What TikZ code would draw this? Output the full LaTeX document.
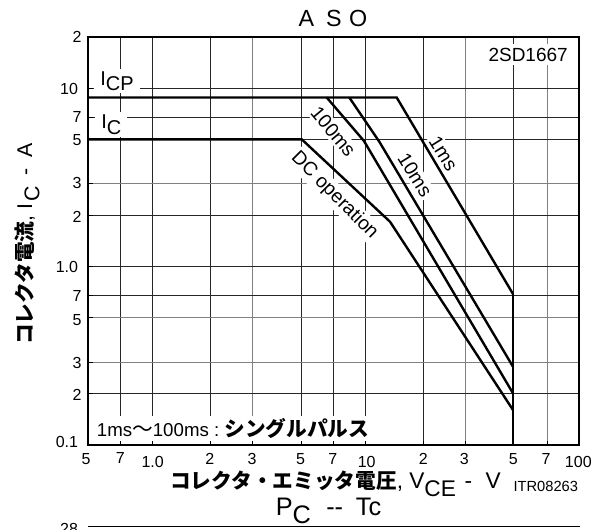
\documentclass[tikz,border=0pt]{standalone}
\usepackage{fontspec}
\setmainfont{Liberation Sans}
\newfontfamily\jp{Noto Sans CJK JP}
\begin{document}
\begin{tikzpicture}[x=0.75pt,y=-0.75pt,
  grid/.style={line width=0.75pt,draw=black!85},
  gridlt/.style={line width=0.75pt,draw=black!50},
  curve/.style={line width=1.8pt,line join=miter,line cap=butt},
  ticklbl/.style={font=\fontsize{12}{13}\selectfont,inner sep=0pt},
  lbl/.style={fill=white,inner sep=1.5pt,font=\fontsize{14.5}{15}\selectfont}]
\useasboundingbox (0,0) rectangle (605,529);
% grid
\foreach \x in {120.3,152.7,210.3,301.7,333.3,365.7,423.7,513.3}
  \draw[grid] (\x,37) -- (\x,445);
\foreach \x in {252,465.3,547}
  \draw[gridlt] (\x,37) -- (\x,445);
\foreach \y in {88.7,117.3,139.3,215.7,266.7,295,393.3}
  \draw[grid] (88,\y) -- (579,\y);
\foreach \y in {183.3,317.7,362}
  \draw[gridlt] (88,\y) -- (579,\y);
% white label boxes
\node[fill=white,inner xsep=4.5pt,inner ysep=1.5pt,anchor=base west,font=\fontsize{15}{16}\selectfont] (icp) at (94,85) {I\raisebox{-4.3pt}{CP}};
\node[fill=white,inner xsep=4.5pt,inner ysep=1.5pt,anchor=base west,font=\fontsize{15}{16}\selectfont] (ic) at (95,128) {I\raisebox{-5.2pt}{C}};
\node[fill=white,inner xsep=3pt,inner ysep=2.5pt,anchor=base east,font=\fontsize{14.25}{15}\selectfont] (part) at (572,61) {2SD1667};
\node[fill=white,inner xsep=2pt,inner ysep=2pt,anchor=base west,font=\fontsize{14}{15}\selectfont] (pulse) at (94,436.7) {1ms{\jp\fontsize{15.5}{16}\selectfont ～}100ms :\hspace{4pt}{\jp\bfseries\fontsize{15.5}{16}\selectfont シングルパルス}};
\node[lbl,rotate=-50] (l100) at (333.3,131.7) {100ms};
\node[lbl,rotate=-58] (l10) at (415,175) {10ms};
\node[lbl,rotate=-58] (l1) at (443.3,153.3) {1ms};
\node[lbl,rotate=-45] (ldc) at (334.5,195.5) {DC operation};
% curve points
\coordinate (icpL) at (88,97.5);
\coordinate (icpR) at (396.7,97.5);
\coordinate (s10) at (349.3,97.5);
\coordinate (k10) at (379.5,142);
\coordinate (s100) at (326.7,97.5);
\coordinate (k100) at (364,141);
\coordinate (icL) at (88,139.3);
\coordinate (sdc) at (301.7,139.3);
\coordinate (kdc) at (390,221.7);
\coordinate (e1) at (513,294);
\coordinate (e10) at (513,366.7);
\coordinate (e100) at (513,393.3);
\coordinate (edc) at (513,410);
\coordinate (ebot) at (513,445);
\draw[curve] (icpL) -- (icpR) -- (e1);
\draw[curve] (s10) -- (k10) -- (e10);
\draw[curve] (s100) -- (k100) -- (e100);
\draw[curve] (icL) -- (sdc) -- (kdc) -- (edc);
\draw[line width=2.2pt] (e1) -- (ebot);
% border and ticks
\draw[line width=1.1pt] (88,37) rectangle (579,445);
\foreach \y in {88.7,117.3,139.3,183.3,215.7,266.7,295,317.7,362,393.3}
  \draw[line width=0.75pt] (88,\y) -- (93,\y);
\foreach \x in {120.3,152.7,210.3,252,301.7,333.3,365.7,423.7,465.3,513.3,547}
  \draw[line width=0.75pt] (\x,445) -- (\x,441);
% y tick labels
\node[ticklbl,anchor=east] (y20) at (81.7,37) {2};
\node[ticklbl,anchor=east] (y10) at (78.3,88.7) {10};
\node[ticklbl,anchor=east] (y7) at (81.7,117.3) {7};
\node[ticklbl,anchor=east] (y5) at (81.7,140) {5};
\node[ticklbl,anchor=east] (y3) at (81.7,183.3) {3};
\node[ticklbl,anchor=east] (y2) at (81.7,216.7) {2};
\node[ticklbl,anchor=east] (y1) at (78.3,267.3) {1.0};
\node[ticklbl,anchor=east] (y07) at (81.7,296) {7};
\node[ticklbl,anchor=east] (y05) at (81.7,320) {5};
\node[ticklbl,anchor=east] (y03) at (81.7,362.7) {3};
\node[ticklbl,anchor=east] (y02) at (81.7,395) {2};
\node[ticklbl,anchor=east] (y01) at (78.3,441.7) {0.1};
% x tick labels
\node[ticklbl] (x05) at (86,459.3) {5};
\node[ticklbl] (x07) at (120.3,458.3) {7};
\node[ticklbl] (x1) at (152.7,461.7) {1.0};
\node[ticklbl] (x2) at (209.7,459.3) {2};
\node[ticklbl] (x3) at (252,459.3) {3};
\node[ticklbl] (x5) at (300.5,459.3) {5};
\node[ticklbl] (x7) at (332.7,459.3) {7};
\node[ticklbl] (x10) at (366.7,461.7) {10};
\node[ticklbl] (x20) at (423.3,459.3) {2};
\node[ticklbl] (x30) at (464.3,459.3) {3};
\node[ticklbl] (x50) at (513.3,459.3) {5};
\node[ticklbl] (x70) at (546,459.3) {7};
\node[ticklbl] (x100) at (578.3,461.7) {100};
% titles and axis labels
\node[anchor=base west,inner sep=0pt,font=\fontsize{17.5}{19}\selectfont] (title) at (298.3,26.7) {A\hspace{9pt}S\hspace{5.5pt}O};
\node[anchor=base west,inner sep=0pt,rotate=90,font=\fontsize{16}{17}\selectfont] (ylab) at (32,345) {{\jp\bfseries\fontsize{15.5}{16}\selectfont コレクタ電流}, I\hspace{2pt}\raisebox{-5.5pt}{C}\hspace{8pt}-\hspace{8pt}A};
\node[anchor=base west,inner sep=0pt,font=\fontsize{17}{18}\selectfont] (xlab) at (170,488.5) {{\jp\bfseries\fontsize{15.5}{16}\selectfont コレクタ・エミッタ電圧}, V\raisebox{-6.2pt}{CE}\hspace{6.5pt}-\hspace{10pt}V};
\node[anchor=base west,inner sep=0pt,font=\fontsize{11}{12}\selectfont] (itr) at (513.3,491.7) {ITR08263};
\node[anchor=base west,inner sep=0pt,font=\fontsize{19}{20}\selectfont] (pc) at (275.5,515) {P\raisebox{-6pt}{C}\hspace{11.5pt}-{}-\hspace{9.5pt}Tc};
% next chart top
\draw[line width=0.9pt] (88,526.7) -- (580,526.7);
\node[ticklbl,anchor=base east] (y28) at (78.3,534) {28};
\end{tikzpicture}
\end{document}
